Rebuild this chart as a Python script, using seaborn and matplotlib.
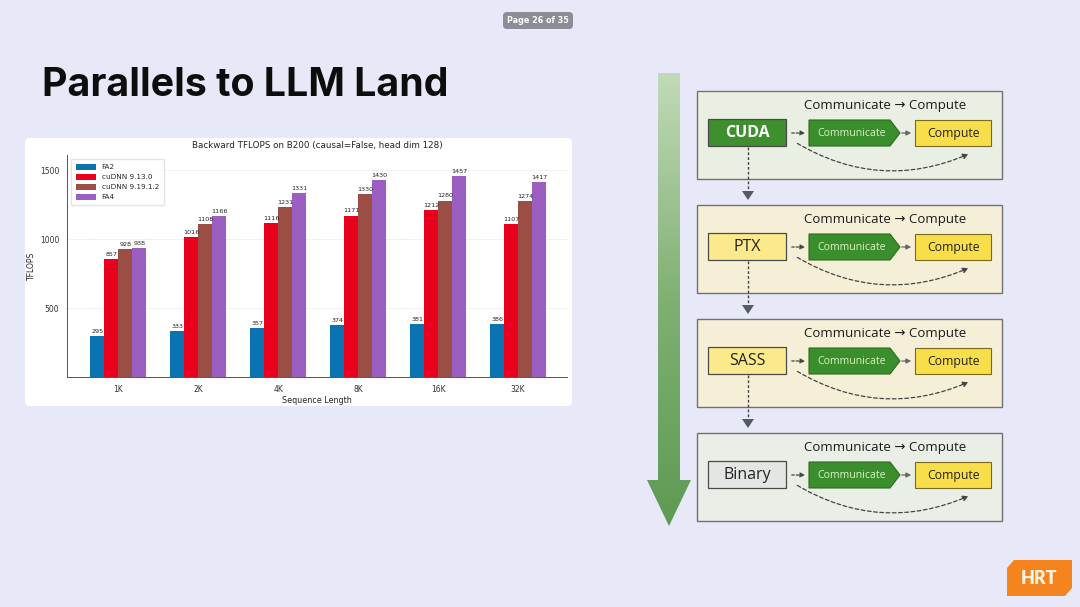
import numpy as np
import pandas as pd
import matplotlib
matplotlib.use("Agg")
import matplotlib.pyplot as plt
import seaborn as sns
from matplotlib.patches import FancyBboxPatch, Rectangle, Polygon, FancyArrowPatch

# chart data
seq_lengths = ["1K", "2K", "4K", "8K", "16K", "32K"]
methods = ["FA2", "cuDNN 9.13.0", "cuDNN 9.19.1.2", "FA4"]
fa2 = [295, 333, 357, 374, 381, 386]
cudnn_913 = [857, 1016, 1116, 1171, 1212, 1107]
cudnn_919 = [928, 1108, 1231, 1330, 1280, 1274]
fa4 = [938, 1166, 1331, 1430, 1457, 1417]
bar_colors = ["#0b72b2", "#e8001e", "#9a4e44", "#9a5fc0"]

# diagram text
stages = ["CUDA", "PTX", "SASS", "Binary"]
stage_fill = ["#3f8f2f", "#fbe98c", "#fbe98c", "#e4e6e4"]
stage_text = ["white", "#222222", "#222222", "#222222"]
panel_fill = ["#e9f0e3", "#f6efd8", "#f6efd8", "#e9efe6"]

df = pd.DataFrame({
    "Sequence Length": seq_lengths * 4,
    "method": np.repeat(methods, 6),
    "TFLOPS": fa2 + cudnn_913 + cudnn_919 + fa4,
})

sns.set_theme(style="white")
plt.rcParams["font.family"] = ["DejaVu Sans"]

W, H = 1080, 607
fig = plt.figure(figsize=(W / 100, H / 100), dpi=100)
fig.patch.set_facecolor("#e7e9f8")

# slide layer in pixel coords (y down)
bg = fig.add_axes([0, 0, 1, 1])
bg.set_xlim(0, W)
bg.set_ylim(H, 0)
bg.axis("off")

bg.text(42, 85, "Parallels to LLM Land", fontsize=28.3, fontweight="bold",
        family=["Inter", "DejaVu Sans"], va="center", ha="left", color="#0d0d0d")

# page tag
bg.add_patch(FancyBboxPatch((503, 12), 70, 17, boxstyle="round,pad=0,rounding_size=4",
                            fc="#8b8e96", ec="none"))
bg.text(538, 20.5, "Page 26 of 35", fontsize=5.8, color="white", ha="center", va="center",
        fontweight="bold")

# chart card
bg.add_patch(FancyBboxPatch((25, 138), 547, 268, boxstyle="round,pad=0,rounding_size=5",
                            fc="white", ec="none"))

# HRT logo
bg.add_patch(Polygon([(1014, 560), (1072, 560), (1072, 588), (1065, 596), (1007, 596), (1007, 568)],
                     closed=True, fc="#f5841f", ec="none"))
bg.text(1039, 578, "HRT", fontsize=13, fontweight="heavy", color="#fff3df",
        ha="center", va="center", family=["Lato", "DejaVu Sans"])

# big gradient arrow
grad = np.linspace(0, 1, 256).reshape(-1, 1)
cmap = matplotlib.colors.LinearSegmentedColormap.from_list("g", ["#c2dab8", "#7fb072", "#5e9a54"])
arrow_poly = Polygon([(658, 73), (680, 73), (680, 480), (691, 480), (669, 526), (647, 480), (658, 480)],
                     closed=True, fc="none", ec="none")
bg.add_patch(arrow_poly)
im = bg.imshow(grad, extent=(645, 693, 527, 73), cmap=cmap, aspect="auto", zorder=1)
im.set_clip_path(arrow_poly)

# flow panels
for i, name in enumerate(stages):
    top = 91 + i * 114
    bg.add_patch(Rectangle((697, top), 305, 88, fc=panel_fill[i], ec="#6f7175", lw=1.0, zorder=2))
    bg.text(885, top + 14, "Communicate \u2192 Compute", fontsize=9.5, color="#1a1a1a",
            ha="center", va="center", zorder=3, family=["Open Sans", "DejaVu Sans"])
    # stage label box
    bg.add_patch(Rectangle((708, top + 28), 78, 27, fc=stage_fill[i], ec="#4a4a4a", lw=0.9, zorder=3))
    bg.text(747, top + 42, name, fontsize=11.5, color=stage_text[i], ha="center", va="center",
            fontweight="bold" if i == 0 else "normal", zorder=4, family=["Open Sans", "DejaVu Sans"])
    # communicate pentagon
    bg.add_patch(Polygon([(809, top + 29), (890, top + 29), (900, top + 42), (890, top + 55), (809, top + 55)],
                         closed=True, fc="#3b8e2c", ec="#2b6a20", lw=0.8, zorder=3))
    bg.text(852, top + 42, "Communicate", fontsize=7.6, color="#d9f2c6", ha="center", va="center",
            zorder=4, family=["Open Sans", "DejaVu Sans"])
    # compute box
    bg.add_patch(Rectangle((915, top + 29), 76, 26, fc="#f8de4b", ec="#7a6a20", lw=0.8, zorder=3))
    bg.text(953, top + 42, "Compute", fontsize=8.8, color="#222222", ha="center", va="center",
            zorder=4, family=["Open Sans", "DejaVu Sans"])
    # arrows inside panel
    bg.add_patch(FancyArrowPatch((789, top + 42), (808, top + 42), arrowstyle="-|>", mutation_scale=7,
                                 lw=0.9, ls=(0, (2, 1.5)), color="#444444", zorder=4))
    bg.add_patch(FancyArrowPatch((899, top + 42), (914, top + 42), arrowstyle="-|>", mutation_scale=7,
                                 lw=0.9, color="#666666", zorder=4))
    bg.add_patch(FancyArrowPatch((795, top + 51), (971, top + 62), connectionstyle="arc3,rad=0.26",
                                 arrowstyle="-|>", mutation_scale=8, lw=0.9, ls=(0, (3, 2)),
                                 color="#444444", zorder=4))
    # connector to next panel
    if i < 3:
        bg.plot([748, 748], [top + 56, top + 100], ls=(0, (2, 1.5)), lw=1.0, color="#444444", zorder=3)
        bg.add_patch(Polygon([(742, top + 100), (754, top + 100), (748, top + 109)], closed=True,
                             fc="#555a62", ec="none", zorder=3))

# bar chart
ax = fig.add_axes([67 / W, 1 - 377 / H, 500 / W, 222 / H])
sns.barplot(data=df, x="Sequence Length", y="TFLOPS", hue="method", hue_order=methods,
            palette=bar_colors, width=0.7, saturation=1, linewidth=0, edgecolor="none", ax=ax)
for c in ax.containers:
    ax.bar_label(c, fmt="%d", fontsize=4.6, padding=1.5, color="#222222")
ax.set_ylim(0, 1610)
ax.set_xlim(-0.64, 5.61)
ax.set_yticks([500, 1000, 1500])
ax.set_yticks(np.arange(100, 1600, 100), minor=True)
ax.yaxis.grid(True, ls="--", lw=0.4, color="#dddddd")
ax.set_axisbelow(True)
ax.tick_params(axis="both", labelsize=5.5, length=2, width=0.5, colors="#333333")
ax.tick_params(axis="y", which="minor", length=1.5, width=0.4)
ax.set_title("Backward TFLOPS on B200 (causal=False, head dim 128)", fontsize=6.3, pad=5, color="#222222")
ax.set_xlabel("Sequence Length", fontsize=5.8, labelpad=2, color="#222222")
ax.set_ylabel("TFLOPS", fontsize=5.5, labelpad=3, color="#222222")
for s in ["top", "right"]:
    ax.spines[s].set_visible(False)
for s in ["left", "bottom"]:
    ax.spines[s].set_color("#555555")
    ax.spines[s].set_linewidth(0.7)
ax.set_facecolor("white")
ax.legend(loc="upper left", fontsize=5.2, frameon=True, handlelength=2.8, handleheight=1.0,
          borderpad=0.7, labelspacing=0.45, edgecolor="#dddddd")

fig.savefig("out.png", dpi=100, facecolor=fig.get_facecolor())
